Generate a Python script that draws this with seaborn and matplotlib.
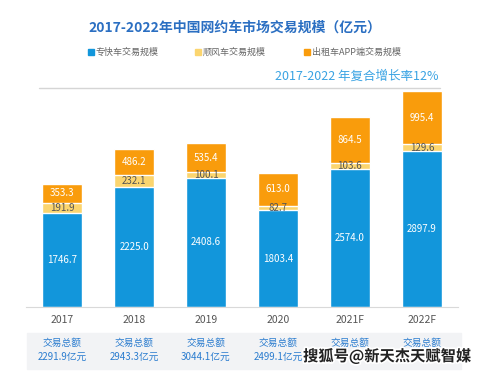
import pandas as pd
import seaborn as sns
import matplotlib.pyplot as plt
from matplotlib.patches import Rectangle
import matplotlib.patheffects as pe

sns.set_style("white")
plt.rcParams['font.family'] = ['Noto Sans CJK SC', 'DejaVu Sans']

# Data
years = ["2017", "2018", "2019", "2020", "2021F", "2022F"]
express = [1746.7, 2225.0, 2408.6, 1803.4, 2574.0, 2897.9]
carpool = [191.9, 232.1, 100.1, 82.7, 103.6, 129.6]
taxi_app = [353.3, 486.2, 535.4, 613.0, 864.5, 995.4]
# last two totals are covered by the watermark in the source
totals = ["2291.9", "2943.3", "3044.1", "2499.1", None, None]

legend_labels = ["专快车交易规模", "顺风车交易规模", "出租车APP端交易规模"]
colors = ["#1296db", "#fbd56f", "#f99c0c"]

df = pd.DataFrame({"year": years, "express": express, "carpool": carpool, "taxi": taxi_app})
df["lvl2"] = df["express"] + df["carpool"]
df["lvl3"] = df["lvl2"] + df["taxi"]

fig = plt.figure(figsize=(4.83, 3.74), dpi=100)
ax = fig.add_axes([0.054, 0.179, 0.894, 0.586])

# stacked bars drawn as overlapping cumulative bars
sns.barplot(data=df, x="year", y="lvl3", color=colors[2], width=0.55, saturation=1, ax=ax)
sns.barplot(data=df, x="year", y="lvl2", color=colors[1], width=0.55, saturation=1, ax=ax)
sns.barplot(data=df, x="year", y="express", color=colors[0], width=0.55, saturation=1, ax=ax)

ax.set_xlim(-0.5, 5.5)
ax.set_ylim(0, 4078)
ax.set_xlabel("")
ax.set_ylabel("")
ax.set_yticks([])
ax.tick_params(axis="x", length=0, labelsize=7.5, colors="#555555", pad=6)
for s in ["top", "left", "right"]:
    ax.spines[s].set_visible(False)
ax.spines["bottom"].set_color("#d9d9d9")

# value labels
for i in range(len(years)):
    ax.text(i, express[i] / 2, f"{express[i]:.1f}", ha="center", va="center",
            color="white", fontsize=7)
    ax.text(i, express[i] + carpool[i] / 2, f"{carpool[i]:.1f}", ha="center", va="center",
            color="#555555", fontsize=7)
    ax.text(i, df["lvl2"][i] + taxi_app[i] / 2, f"{taxi_app[i]:.1f}", ha="center", va="center",
            color="white", fontsize=7)

# title
fig.text(0.487, 0.925, "2017-2022年中国网约车市场交易规模（亿元）", ha="center", va="center",
         color="#2b6fc2", fontsize=10, fontweight="bold")

# legend
leg_x = [0.182, 0.404, 0.630]
for x, lab, c in zip(leg_x, legend_labels, colors):
    fig.patches.append(Rectangle((x, 0.852), 0.012, 0.016, transform=fig.transFigure,
                                 color=c, figure=fig))
    fig.text(x + 0.016, 0.860, lab, ha="left", va="center", color="#666666", fontsize=6.5)

# CAGR note with line
fig.text(0.908, 0.795, "2017-2022 年复合增长率12%", ha="right", va="center",
         color="#3aa3e3", fontsize=9)
fig.add_artist(plt.Line2D([0.08, 0.911], [0.765, 0.765], transform=fig.transFigure,
                          color="#d5d5d5", lw=1))

# totals box under the axis
fig.patches.append(Rectangle((0.056, 0.014), 0.898, 0.096, transform=fig.transFigure,
                             color="#f2f3f5", figure=fig, zorder=0))
for i, t in enumerate(totals):
    xf = 0.054 + 0.894 * (i + 0.5) / 6
    fig.text(xf, 0.083, "交易总额", ha="center", va="center", color="#2a7ccf", fontsize=7)
    if t is not None:
        fig.text(xf, 0.047, t + "亿元", ha="center", va="center", color="#2a7ccf", fontsize=7)

# watermark
fig.text(0.975, 0.047, "搜狐号@新天杰天赋智媒", ha="right", va="center", color="#222222",
         fontsize=11, fontweight="bold",
         path_effects=[pe.withStroke(linewidth=2.5, foreground="white")])

plt.savefig("out.png", dpi=100)
